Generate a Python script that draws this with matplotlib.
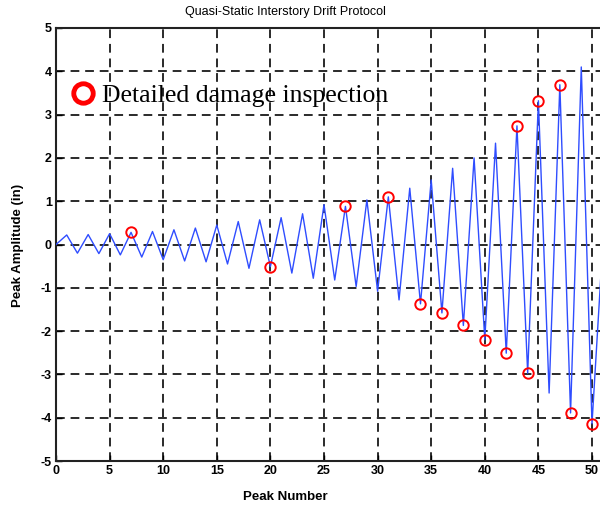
import matplotlib
matplotlib.use("Agg")
import matplotlib.pyplot as plt
from matplotlib.lines import Line2D

plt.rcParams["axes.unicode_minus"] = False

# peak amplitudes (in), peak number 0..51
peak_number = list(range(0, 52))
peak_amplitude = [0.0, 0.22, -0.2, 0.23, -0.21, 0.25, -0.24, 0.28, -0.29, 0.3,
                  -0.35, 0.34, -0.38, 0.38, -0.4, 0.45, -0.45, 0.53, -0.55, 0.57,
                  -0.51, 0.62, -0.66, 0.71, -0.78, 0.92, -0.82, 0.88, -0.97, 1.03,
                  -1.08, 1.1, -1.28, 1.3, -1.37, 1.49, -1.58, 1.76, -1.87, 2.0,
                  -2.2, 2.34, -2.51, 2.74, -2.97, 3.32, -3.43, 3.69, -3.89, 4.1,
                  -4.14, 0.0]

# peaks where a detailed damage inspection was done
inspection_peaks = [7, 20, 27, 31, 34, 36, 38, 40, 42, 43, 44, 45, 47, 48, 50]
inspection_amp = [peak_amplitude[p] for p in inspection_peaks]

fig = plt.figure(figsize=(6.0, 5.07), dpi=100)
# axes runs past the right edge like the cropped original
ax = fig.add_axes([56 / 600, 46 / 507, 589.6 / 600, 433 / 507])

ax.plot(peak_number, peak_amplitude, color="#2f4dff", lw=1.0, zorder=3)
ax.plot(inspection_peaks, inspection_amp, linestyle="none", marker="o",
        markersize=7.5, markerfacecolor="none", markeredgecolor="red",
        markeredgewidth=1.4, zorder=4)

ax.set_xlim(0, 55)
ax.set_ylim(-5, 5)
ax.set_xticks(range(0, 51, 5))
ax.set_yticks(range(-5, 6))
ax.grid(True, color="#2a2a2a", linestyle=(0, (4.5, 3)), lw=1.4)
ax.tick_params(direction="in", length=4, width=1, labelsize=9, pad=3)
for lab in ax.get_xticklabels() + ax.get_yticklabels():
    lab.set_fontweight("bold")
    lab.set_fontfamily("Liberation Sans")
for sp in ax.spines.values():
    sp.set_linewidth(1.5)
    sp.set_color("#222222")

fig.text(285 / 600, 1 - 12 / 507, "Quasi-Static Interstory Drift Protocol",
         ha="center", va="center", fontsize=9, family="Liberation Sans")
fig.text(285 / 600, 1 - 497 / 507, "Peak Number", ha="center", va="center",
         fontsize=9.5, family="Liberation Sans", fontweight="bold")
fig.text(18 / 600, 1 - 245 / 507, "Peak Amplitude (in)", ha="center", va="center",
         rotation=90, fontsize=9.5, family="Liberation Sans", fontweight="bold")

handle = Line2D([], [], linestyle="none", marker="o", markersize=14,
                markerfacecolor="none", markeredgecolor="red", markeredgewidth=3.5)
ax.legend([handle], ["Detailed damage inspection"], loc="center left",
          bbox_to_anchor=(0.0, (3.43 + 5) / 10), frameon=False,
          handlelength=1.0, handletextpad=0.25, borderaxespad=0.15,
          prop={"family": "Liberation Serif", "size": 18.5})

fig.savefig("out.png", dpi=100)
